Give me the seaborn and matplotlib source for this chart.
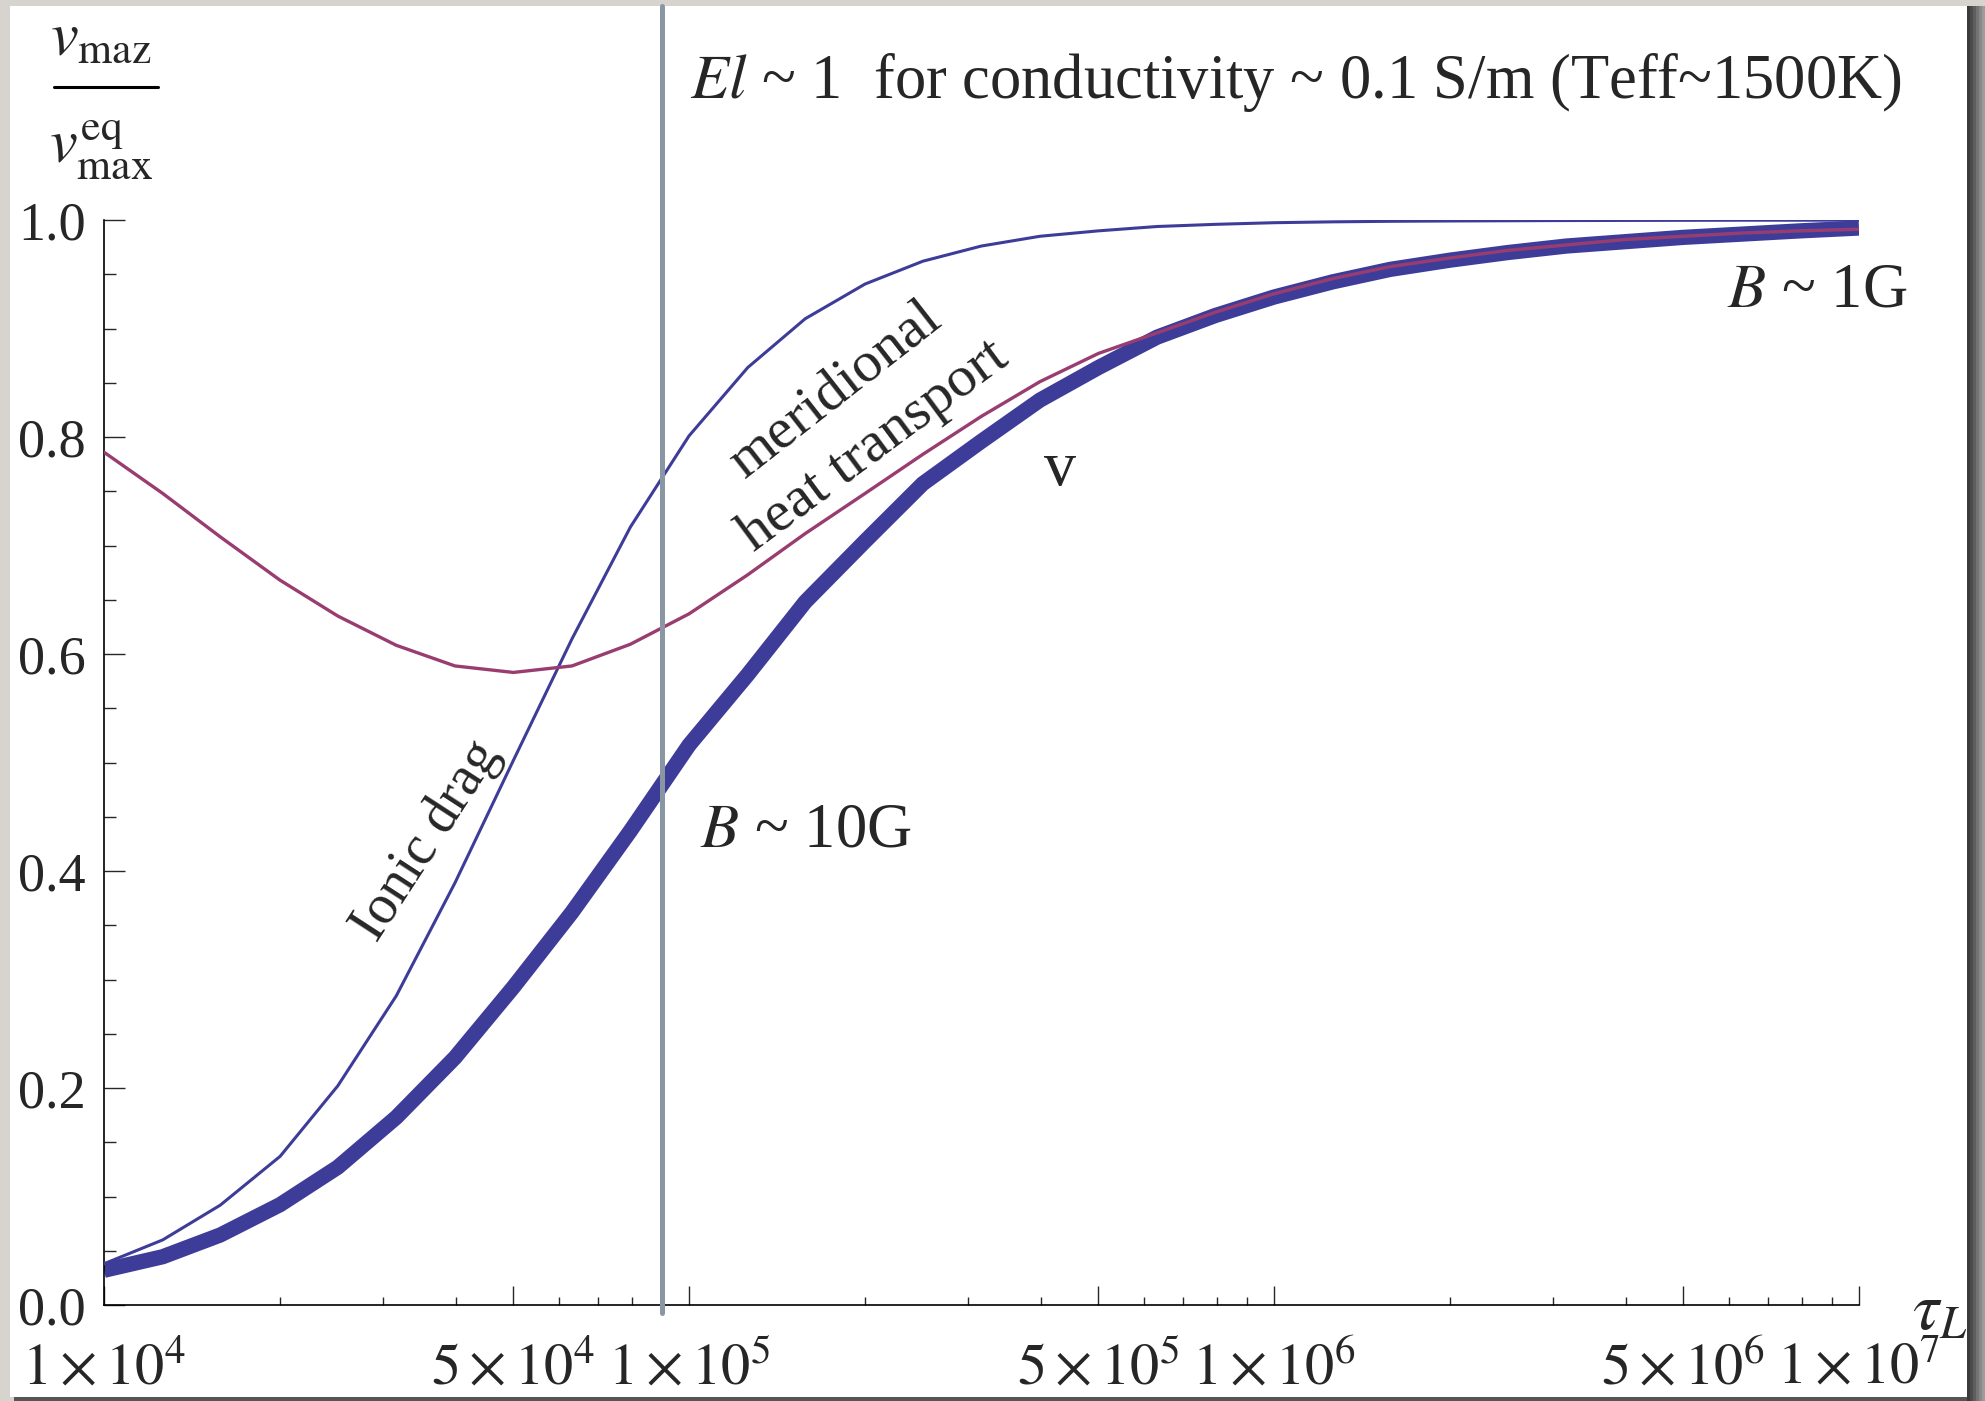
import numpy as np
import pandas as pd
import matplotlib
matplotlib.use("Agg")
import matplotlib.pyplot as plt
import matplotlib.ticker as mticker
from matplotlib.patches import Rectangle
from matplotlib.lines import Line2D
import seaborn as sns

# ---------------- data ----------------
tau_L = [1.00e4, 1.26e4, 1.58e4, 2.00e4, 2.51e4, 3.16e4, 3.98e4, 5.01e4, 6.31e4, 7.94e4,
         1.00e5, 1.26e5, 1.58e5, 2.00e5, 2.51e5, 3.16e5, 3.98e5, 5.01e5, 6.31e5, 7.94e5,
         1.00e6, 1.26e6, 1.58e6, 2.00e6, 2.51e6, 3.16e6, 3.98e6, 5.01e6, 6.31e6, 7.94e6,
         1.00e7]

v_total = [0.032, 0.0445, 0.0645, 0.0925, 0.127, 0.173, 0.228, 0.293, 0.362, 0.437,
           0.516, 0.581, 0.648, 0.704, 0.757, 0.796, 0.834, 0.864, 0.892, 0.912,
           0.929, 0.943, 0.9545, 0.963, 0.970, 0.976, 0.980, 0.984, 0.987, 0.990,
           0.9926]

ionic_drag = [0.038, 0.060, 0.092, 0.137, 0.202, 0.285, 0.389, 0.502, 0.614, 0.717,
              0.801, 0.864, 0.909, 0.941, 0.962, 0.976, 0.985, 0.990, 0.994, 0.996,
              0.9975, 0.9983, 0.9988, 0.9991, 0.9993, 0.9995, 0.9996, 0.9997, 0.9998, 0.9998,
              0.9999]

meridional = [0.786, 0.748, 0.708, 0.668, 0.635, 0.608, 0.589, 0.583, 0.589, 0.609,
              0.637, 0.673, 0.711, 0.748, 0.784, 0.819, 0.851, 0.877, 0.896, 0.915,
              0.932, 0.946, 0.957, 0.965, 0.972, 0.977, 0.982, 0.985, 0.988, 0.990,
              0.9915]

el_tau = 9.0e4  # tau_L where El ~ 1

x_major = [1e4, 5e4, 1e5, 5e5, 1e6, 5e6, 1e7]
x_major_labels = [r"$1\times10^{4}$", r"$5\times10^{4}$", r"$1\times10^{5}$",
                  r"$5\times10^{5}$", r"$1\times10^{6}$", r"$5\times10^{6}$",
                  r"$1\times10^{7}$"]
y_major = [0.0, 0.2, 0.4, 0.6, 0.8, 1.0]
y_major_labels = ["0.0", "0.2", "0.4", "0.6", "0.8", "1.0"]

df = pd.DataFrame({"tau": tau_L, "v": v_total, "ionic": ionic_drag, "merid": meridional})

# ---------------- style ----------------
sns.set_style("ticks")
plt.rcParams["font.family"] = ["Liberation Serif", "DejaVu Serif"]
plt.rcParams["mathtext.fontset"] = "stix"

C_BLUE = "#3d3d99"
C_PURPLE = "#993d71"
C_VLINE = "#8a96a3"

W, H = 1985, 1401
fig = plt.figure(figsize=(W / 100, H / 100), dpi=100)
fig.patch.set_facecolor("#d7d4cf")

def fx(px):
    return px / W

def fy(py):
    return 1 - py / H

# white panel + drop shadow
shadow_cols = ["#3a3a3a", "#4c4c4c", "#5f5f5f", "#737373", "#888888", "#9c9c9c"]
for i, c in enumerate(shadow_cols):
    fig.add_artist(Rectangle((fx(1967 + 3 * i), fy(1401)), fx(3), 1 - 6 / H,
                             transform=fig.transFigure, facecolor=c, edgecolor="none",
                             zorder=-9))
fig.add_artist(Rectangle((fx(14), 0), fx(1967 - 14), fy(1397),
                         transform=fig.transFigure, facecolor="#555555",
                         edgecolor="none", zorder=-9))
fig.add_artist(Rectangle((fx(10), fy(1397)), fx(1967 - 10), (1397 - 6) / H,
                         transform=fig.transFigure, facecolor="white",
                         edgecolor="none", zorder=-8))

ax = fig.add_axes([fx(104), fy(1305), fx(1859 - 104), (1305 - 220) / H])
ax.set_facecolor("none")

sns.lineplot(data=df, x="tau", y="v", ax=ax, color=C_BLUE, linewidth=11,
             sort=False, estimator=None, solid_capstyle="butt", zorder=2)
sns.lineplot(data=df, x="tau", y="ionic", ax=ax, color=C_BLUE, linewidth=2.2,
             sort=False, estimator=None, zorder=3)
sns.lineplot(data=df, x="tau", y="merid", ax=ax, color=C_PURPLE, linewidth=2.4,
             sort=False, estimator=None, zorder=4)

ax.set_xscale("log")
ax.set_xlim(1e4, 1e7)
ax.set_ylim(0, 1.0)
ax.set_xlabel("")
ax.set_ylabel("")

ax.axvline(el_tau, ymin=-0.007, ymax=1 + 214 / 1085, clip_on=False,
           color=C_VLINE, linewidth=3.6, zorder=5)

for s in ["top", "right"]:
    ax.spines[s].set_visible(False)
for s in ["left", "bottom"]:
    ax.spines[s].set_linewidth(1.2)
    ax.spines[s].set_color("black")

ax.xaxis.set_major_locator(mticker.FixedLocator(x_major))
ax.xaxis.set_major_formatter(mticker.FixedFormatter(x_major_labels))
x_minor = [m * 10.0 ** d for d in (4, 5, 6) for m in (2, 3, 4, 6, 7, 8, 9)]
ax.xaxis.set_minor_locator(mticker.FixedLocator(x_minor))
ax.xaxis.set_minor_formatter(mticker.NullFormatter())
ax.yaxis.set_major_locator(mticker.FixedLocator(y_major))
ax.yaxis.set_major_formatter(mticker.FixedFormatter(y_major_labels))
ax.yaxis.set_minor_locator(mticker.MultipleLocator(0.05))

ax.tick_params(axis="x", which="major", direction="in", length=13.5, width=1.0,
               labelsize=42, pad=27)
ax.tick_params(axis="x", which="minor", direction="in", length=5.5, width=1.0)
ax.tick_params(axis="y", which="major", direction="in", length=15, width=1.0,
               labelsize=39, pad=13)
ax.tick_params(axis="y", which="minor", direction="in", length=8.5, width=1.0)

# ---------------- annotations ----------------
ax.text(1.78e5, 0.844, "meridional", rotation=38, ha="center", va="center",
        fontsize=42, rotation_mode="anchor")
ax.text(2.07e5, 0.792, "heat transport", rotation=36.5, ha="center", va="center",
        fontsize=42, rotation_mode="anchor")
ax.text(3.57e4, 0.428, "Ionic drag", rotation=57, ha="center", va="center",
        fontsize=40, rotation_mode="anchor")
ax.text(4.3e5, 0.770, "v", ha="center", va="center", fontsize=46)
ax.text(1.585e5, 0.436, r"$B$ ~ 10G", ha="center", va="center", fontsize=45)
ax.text(8.47e6, 0.934, r"$B$ ~ 1G", ha="center", va="center", fontsize=45)

# title
fig.text(fx(690), fy(82), r"$El$ ~ 1  for conductivity ~ 0.1 S/m (Teff~1500K)",
         ha="left", va="center", fontsize=45)

# y-axis label as a fraction
fig.text(fx(101), fy(55), r"$v_{\mathrm{maz}}$", ha="center", va="baseline", fontsize=45)
fig.add_artist(Line2D([fx(54), fx(158)], [fy(87), fy(87)], transform=fig.transFigure,
                      color="black", linewidth=2.2))
fig.text(fx(101), fy(162), r"$v_{\mathrm{max}}^{\mathrm{eq}}$", ha="center",
         va="baseline", fontsize=45)

# x-axis label
fig.text(fx(1912), fy(1312), r"$\tau_L$", ha="left", va="center", fontsize=48)

fig.savefig("out.png", dpi=100, facecolor=fig.get_facecolor())
